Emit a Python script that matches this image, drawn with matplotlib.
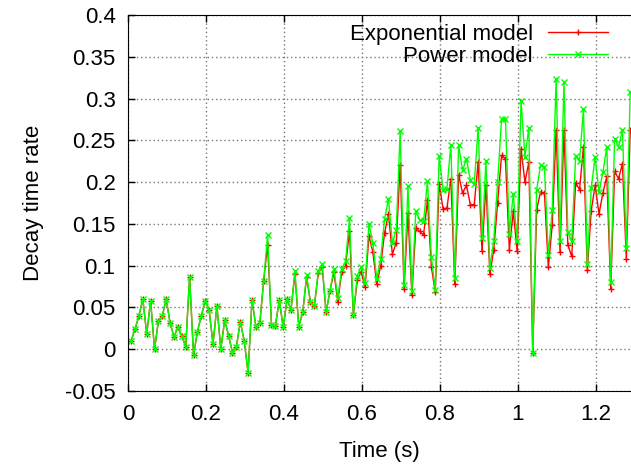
import matplotlib
matplotlib.use("Agg")
import matplotlib.pyplot as plt
from matplotlib.ticker import FuncFormatter

plt.rcParams['font.family'] = ['Liberation Sans', 'DejaVu Sans']

# sample times (s)
t0 = 0.008
dt = 0.01

# decay time rate
exp_model = [
    0.010, 0.024, 0.040, 0.060, 0.018, 0.058, 0.000, 0.034, 0.040, 0.060,
    0.031, 0.015, 0.026, 0.016, 0.003, 0.087, -0.007, 0.021, 0.040, 0.058,
    0.047, 0.006, 0.052, 0.000, 0.035, 0.016, -0.004, 0.003, 0.033, 0.010,
    -0.028, 0.059, 0.027, 0.031, 0.082, 0.125, 0.029, 0.028, 0.059, 0.026,
    0.060, 0.047, 0.090, 0.027, 0.044, 0.086, 0.056, 0.052, 0.091, 0.098,
    0.044, 0.070, 0.092, 0.057, 0.092, 0.100, 0.141, 0.041, 0.083, 0.093,
    0.074, 0.136, 0.116, 0.078, 0.100, 0.139, 0.162, 0.114, 0.127, 0.221,
    0.072, 0.163, 0.065, 0.145, 0.141, 0.137, 0.178, 0.099, 0.068, 0.198,
    0.168, 0.169, 0.204, 0.078, 0.209, 0.187, 0.196, 0.173, 0.173, 0.224,
    0.117, 0.197, 0.090, 0.119, 0.175, 0.232, 0.228, 0.119, 0.165, 0.117,
    0.240, 0.200, 0.224, -0.004, 0.167, 0.188, 0.187, 0.098, 0.149, 0.262,
    0.116, 0.262, 0.125, 0.111, 0.199, 0.191, 0.242, 0.095, 0.166, 0.196,
    0.162, 0.187, 0.207, 0.072, 0.213, 0.204, 0.222, 0.108, 0.262,
]
pow_model = [
    0.010, 0.024, 0.040, 0.060, 0.018, 0.058, 0.000, 0.034, 0.040, 0.060,
    0.031, 0.015, 0.026, 0.016, 0.003, 0.087, -0.007, 0.021, 0.040, 0.058,
    0.047, 0.006, 0.052, 0.000, 0.035, 0.016, -0.004, 0.003, 0.033, 0.010,
    -0.028, 0.059, 0.027, 0.031, 0.082, 0.137, 0.029, 0.028, 0.059, 0.026,
    0.060, 0.047, 0.094, 0.027, 0.044, 0.089, 0.056, 0.052, 0.094, 0.102,
    0.044, 0.070, 0.096, 0.061, 0.096, 0.105, 0.157, 0.041, 0.088, 0.099,
    0.079, 0.150, 0.127, 0.084, 0.108, 0.156, 0.180, 0.127, 0.143, 0.261,
    0.077, 0.195, 0.070, 0.165, 0.155, 0.153, 0.201, 0.110, 0.071, 0.231,
    0.191, 0.192, 0.245, 0.085, 0.244, 0.214, 0.228, 0.202, 0.198, 0.265,
    0.133, 0.225, 0.097, 0.130, 0.200, 0.276, 0.276, 0.138, 0.186, 0.129,
    0.297, 0.230, 0.265, -0.004, 0.191, 0.220, 0.218, 0.113, 0.167, 0.324,
    0.129, 0.320, 0.140, 0.129, 0.231, 0.225, 0.288, 0.102, 0.193, 0.230,
    0.188, 0.212, 0.242, 0.080, 0.252, 0.242, 0.262, 0.121, 0.308,
]
times = [t0 + dt * i for i in range(len(exp_model))]

fig = plt.figure(figsize=(6.31, 4.68), dpi=100)
ax = fig.add_axes([128 / 631, 1 - 391 / 468, 1 - 128 / 631, (391 - 15) / 468])

ax.plot(times, exp_model, color='#ff0000', lw=1, marker='+', ms=5, mew=1,
        label='Exponential model')
ax.plot(times, pow_model, color='#00ff00', lw=1, marker='x', ms=4, mew=1,
        label='Power model')

ax.set_xlim(0, 1.29)
ax.set_ylim(-0.05, 0.4)
ax.set_xticks([0, 0.2, 0.4, 0.6, 0.8, 1.0, 1.2])
ax.set_yticks([-0.05, 0, 0.05, 0.1, 0.15, 0.2, 0.25, 0.3, 0.35, 0.4])
fmt = FuncFormatter(lambda v, p: '%g' % round(v, 3))
ax.xaxis.set_major_formatter(fmt)
ax.yaxis.set_major_formatter(fmt)
ax.tick_params(direction='in', length=5, width=1, labelsize=16, top=True,
               pad=9)
ax.grid(True, color='#777777', ls=(0, (1, 2)), lw=1)
ax.spines['right'].set_visible(False)

ax.set_xlabel('Time (s)', fontsize=16, labelpad=12)
ax.set_ylabel('Decay time rate', fontsize=16, labelpad=15)

ax.legend(loc='upper right', bbox_to_anchor=(0.955, 0.977), frameon=False,
          markerfirst=False, fontsize=16, handlelength=2.7,
          handletextpad=0.7, labelspacing=0.05, borderpad=0,
          borderaxespad=0)

fig.savefig('out.png', dpi=100)
